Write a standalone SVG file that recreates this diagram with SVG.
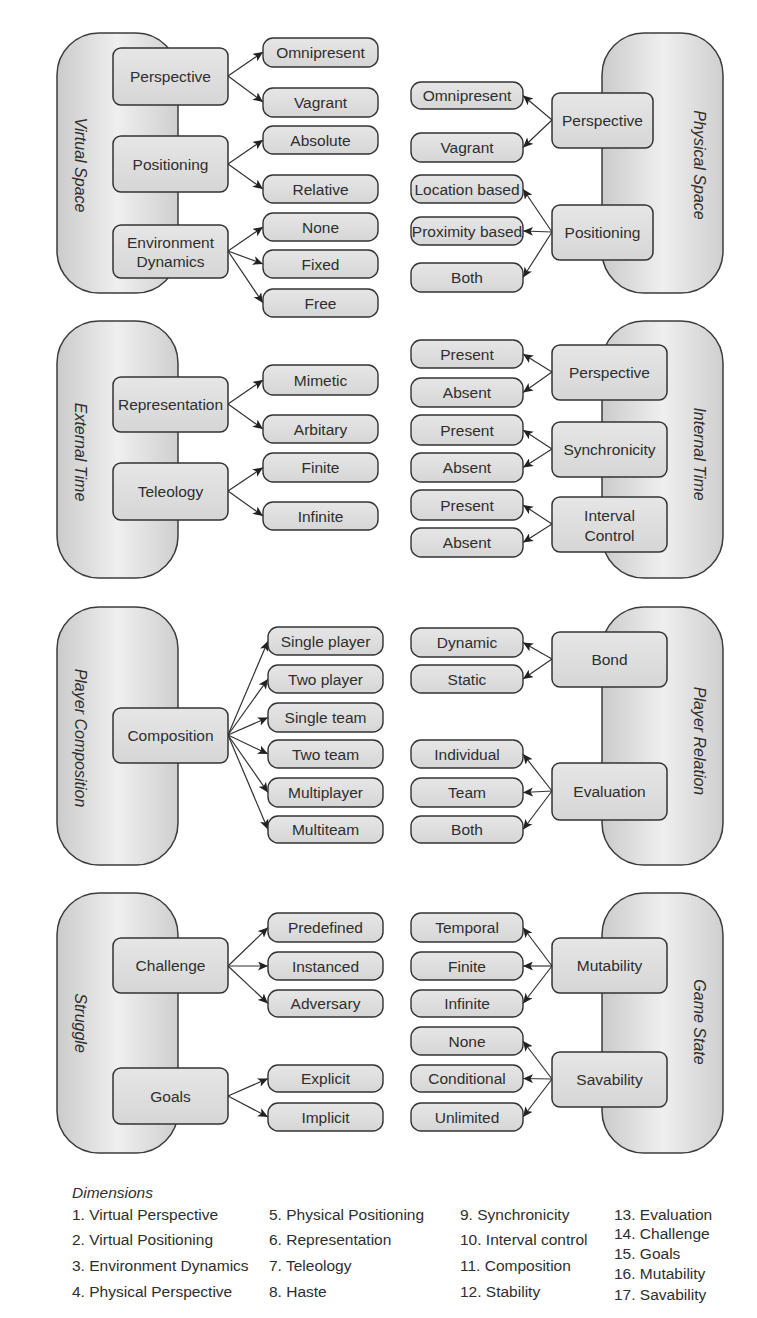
<svg xmlns="http://www.w3.org/2000/svg" width="757" height="1318" viewBox="0 0 757 1318">
<style>
.pill{fill:url(#pg);stroke:#3c3c3c;stroke-width:1.5}
.node{fill:url(#ng);stroke:#333;stroke-width:1.5}
.opt{fill:url(#ng);stroke:#333;stroke-width:1.4}
.t{font-family:"Liberation Sans",Arial,sans-serif;font-size:15.5px;fill:#2e2e2e;text-anchor:middle;dominant-baseline:central}
.pl{font-family:"Liberation Sans",Arial,sans-serif;font-size:16px;font-style:italic;fill:#2e2e2e;text-anchor:middle;dominant-baseline:central}
.lg{font-family:"Liberation Sans",Arial,sans-serif;font-size:15.5px;fill:#2e2e2e}
.c line{stroke:#333;stroke-width:1.2;marker-end:url(#ah)}
</style>
<defs>
<linearGradient id="pg" x1="0" y1="0" x2="1" y2="0">
<stop offset="0" stop-color="#cbcbcb"/>
<stop offset="0.5" stop-color="#efefef"/>
<stop offset="1" stop-color="#cfcfcf"/>
</linearGradient>
<linearGradient id="ng" x1="0" y1="0" x2="0" y2="1">
<stop offset="0" stop-color="#e6e6e6"/>
<stop offset="1" stop-color="#d6d6d6"/>
</linearGradient>
<marker id="ah" markerUnits="userSpaceOnUse" markerWidth="11" markerHeight="9" refX="10" refY="4.5" orient="auto">
<path d="M0,0 L10,4.5 L0,9 L2.5,4.5 z" fill="#222"/>
</marker>
</defs>
<rect width="757" height="1318" fill="#fff"/>

<g id="virtual-space"><rect class="pill" x="57" y="33" width="121" height="260" rx="42"/><text class="pl" transform="translate(80,165) rotate(90)">Virtual Space</text></g>
<g id="physical-space"><rect class="pill" x="602" y="33" width="121" height="260" rx="42"/><text class="pl" transform="translate(699,165) rotate(90)">Physical Space</text></g>

<g id="external-time"><rect class="pill" x="57" y="321" width="121" height="257" rx="42"/><text class="pl" transform="translate(80,452) rotate(90)">External Time</text></g>
<g id="internal-time"><rect class="pill" x="602" y="321" width="121" height="257" rx="42"/><text class="pl" transform="translate(699,454) rotate(90)">Internal Time</text></g>

<g id="player-composition"><rect class="pill" x="57" y="607" width="121" height="258" rx="42"/><text class="pl" transform="translate(80,738) rotate(90)">Player Composition</text></g>
<g id="player-relation"><rect class="pill" x="602" y="607" width="121" height="258" rx="42"/><text class="pl" transform="translate(699,741) rotate(90)">Player Relation</text></g>

<g id="struggle"><rect class="pill" x="57" y="893" width="121" height="260" rx="42"/><text class="pl" transform="translate(80,1023) rotate(90)">Struggle</text></g>
<g id="game-state"><rect class="pill" x="602" y="893" width="121" height="260" rx="42"/><text class="pl" transform="translate(699,1022) rotate(90)">Game State</text></g>

<g id="connectors" class="c">
<line x1="228" y1="76" x2="263" y2="52"/>
<line x1="228" y1="76" x2="263" y2="102"/>
<line x1="228" y1="164" x2="263" y2="140"/>
<line x1="228" y1="164" x2="263" y2="189"/>
<line x1="228" y1="251" x2="263" y2="227"/>
<line x1="228" y1="251" x2="263" y2="264"/>
<line x1="228" y1="251" x2="263" y2="303"/>
<line x1="552" y1="120" x2="523" y2="95.5"/>
<line x1="552" y1="120" x2="523" y2="147.5"/>
<line x1="552" y1="232" x2="523" y2="189"/>
<line x1="552" y1="232" x2="523" y2="231"/>
<line x1="552" y1="232" x2="523" y2="277.5"/>
<line x1="228" y1="404" x2="263" y2="380"/>
<line x1="228" y1="404" x2="263" y2="429"/>
<line x1="228" y1="491" x2="263" y2="467.5"/>
<line x1="228" y1="491" x2="263" y2="516"/>
<line x1="552" y1="372" x2="523" y2="354"/>
<line x1="552" y1="372" x2="523" y2="392.5"/>
<line x1="552" y1="449" x2="523" y2="430"/>
<line x1="552" y1="449" x2="523" y2="467.5"/>
<line x1="552" y1="524" x2="523" y2="505"/>
<line x1="552" y1="524" x2="523" y2="542.5"/>
<line x1="228" y1="735" x2="268" y2="641"/>
<line x1="228" y1="735" x2="268" y2="679"/>
<line x1="228" y1="735" x2="268" y2="717.5"/>
<line x1="228" y1="735" x2="268" y2="754"/>
<line x1="228" y1="735" x2="268" y2="792.5"/>
<line x1="228" y1="735" x2="268" y2="829.5"/>
<line x1="552" y1="659" x2="523" y2="642.5"/>
<line x1="552" y1="659" x2="523" y2="679"/>
<line x1="552" y1="791" x2="523" y2="754"/>
<line x1="552" y1="791" x2="523" y2="792.5"/>
<line x1="552" y1="791" x2="523" y2="829.5"/>
<line x1="228" y1="966" x2="268" y2="927.5"/>
<line x1="228" y1="966" x2="268" y2="966"/>
<line x1="228" y1="966" x2="268" y2="1003.5"/>
<line x1="228" y1="1096" x2="268" y2="1078.5"/>
<line x1="228" y1="1096" x2="268" y2="1117"/>
<line x1="552" y1="966" x2="523" y2="927.5"/>
<line x1="552" y1="966" x2="523" y2="966"/>
<line x1="552" y1="966" x2="523" y2="1003.5"/>
<line x1="552" y1="1079" x2="523" y2="1041"/>
<line x1="552" y1="1079" x2="523" y2="1078.5"/>
<line x1="552" y1="1079" x2="523" y2="1117"/>
</g>

<g id="vs-perspective"><rect class="node" x="113" y="48" width="115" height="57" rx="8"/><text class="t" x="170.5" y="76.5">Perspective</text></g>
<g id="vs-positioning"><rect class="node" x="113" y="136" width="115" height="56" rx="8"/><text class="t" x="170.5" y="164">Positioning</text></g>
<g id="vs-envdyn"><rect class="node" x="113" y="225" width="115" height="53" rx="8"/><text class="t" x="170.5" y="242">Environment</text><text class="t" x="170.5" y="261">Dynamics</text></g>
<g id="vs-omnipresent"><rect class="opt" x="263" y="38" width="115" height="29" rx="10"/><text class="t" x="320.5" y="52.5">Omnipresent</text></g>
<g id="vs-vagrant"><rect class="opt" x="263" y="88" width="115" height="29" rx="10"/><text class="t" x="320.5" y="102.5">Vagrant</text></g>
<g id="vs-absolute"><rect class="opt" x="263" y="126" width="115" height="28" rx="10"/><text class="t" x="320.5" y="140">Absolute</text></g>
<g id="vs-relative"><rect class="opt" x="263" y="175" width="115" height="28" rx="10"/><text class="t" x="320.5" y="189">Relative</text></g>
<g id="vs-none"><rect class="opt" x="263" y="213" width="115" height="28" rx="10"/><text class="t" x="320.5" y="227">None</text></g>
<g id="vs-fixed"><rect class="opt" x="263" y="250" width="115" height="28" rx="10"/><text class="t" x="320.5" y="264">Fixed</text></g>
<g id="vs-free"><rect class="opt" x="263" y="289" width="115" height="28" rx="10"/><text class="t" x="320.5" y="303">Free</text></g>

<g id="ps-perspective"><rect class="node" x="552" y="93" width="101" height="55" rx="8"/><text class="t" x="602.5" y="120.5">Perspective</text></g>
<g id="ps-positioning"><rect class="node" x="552" y="205" width="101" height="55" rx="8"/><text class="t" x="602.5" y="232.5">Positioning</text></g>
<g id="ps-omnipresent"><rect class="opt" x="411" y="82" width="112" height="27" rx="10"/><text class="t" x="467" y="95.5">Omnipresent</text></g>
<g id="ps-vagrant"><rect class="opt" x="411" y="133" width="112" height="29" rx="10"/><text class="t" x="467" y="147.5">Vagrant</text></g>
<g id="ps-location"><rect class="opt" x="411" y="175" width="112" height="28" rx="10"/><text class="t" x="467" y="189">Location based</text></g>
<g id="ps-proximity"><rect class="opt" x="411" y="217" width="112" height="28" rx="10"/><text class="t" x="467" y="231">Proximity based</text></g>
<g id="ps-both"><rect class="opt" x="411" y="263" width="112" height="29" rx="10"/><text class="t" x="467" y="277.5">Both</text></g>

<g id="et-representation"><rect class="node" x="113" y="377" width="115" height="55" rx="8"/><text class="t" x="170.5" y="404.5">Representation</text></g>
<g id="et-teleology"><rect class="node" x="113" y="463" width="115" height="57" rx="8"/><text class="t" x="170.5" y="491.5">Teleology</text></g>
<g id="et-mimetic"><rect class="opt" x="263" y="365" width="115" height="30" rx="10"/><text class="t" x="320.5" y="380">Mimetic</text></g>
<g id="et-arbitary"><rect class="opt" x="263" y="415" width="115" height="28" rx="10"/><text class="t" x="320.5" y="429">Arbitary</text></g>
<g id="et-finite"><rect class="opt" x="263" y="453" width="115" height="29" rx="10"/><text class="t" x="320.5" y="467.5">Finite</text></g>
<g id="et-infinite"><rect class="opt" x="263" y="502" width="115" height="28" rx="10"/><text class="t" x="320.5" y="516">Infinite</text></g>

<g id="it-perspective"><rect class="node" x="552" y="345" width="115" height="55" rx="8"/><text class="t" x="609.5" y="372.5">Perspective</text></g>
<g id="it-synchronicity"><rect class="node" x="552" y="422" width="115" height="55" rx="8"/><text class="t" x="609.5" y="449.5">Synchronicity</text></g>
<g id="it-interval"><rect class="node" x="552" y="497" width="115" height="55" rx="8"/><text class="t" x="609.5" y="515">Interval</text><text class="t" x="609.5" y="535">Control</text></g>
<g id="it-present1"><rect class="opt" x="411" y="340" width="112" height="28" rx="10"/><text class="t" x="467" y="354">Present</text></g>
<g id="it-absent1"><rect class="opt" x="411" y="378" width="112" height="29" rx="10"/><text class="t" x="467" y="392.5">Absent</text></g>
<g id="it-present2"><rect class="opt" x="411" y="415" width="112" height="30" rx="10"/><text class="t" x="467" y="430">Present</text></g>
<g id="it-absent2"><rect class="opt" x="411" y="453" width="112" height="29" rx="10"/><text class="t" x="467" y="467.5">Absent</text></g>
<g id="it-present3"><rect class="opt" x="411" y="490" width="112" height="30" rx="10"/><text class="t" x="467" y="505">Present</text></g>
<g id="it-absent3"><rect class="opt" x="411" y="528" width="112" height="29" rx="10"/><text class="t" x="467" y="542.5">Absent</text></g>

<g id="pc-composition"><rect class="node" x="113" y="708" width="115" height="55" rx="8"/><text class="t" x="170.5" y="735.5">Composition</text></g>
<g id="pc-single-player"><rect class="opt" x="268" y="627" width="115" height="28" rx="10"/><text class="t" x="325.5" y="641">Single player</text></g>
<g id="pc-two-player"><rect class="opt" x="268" y="665" width="115" height="28" rx="10"/><text class="t" x="325.5" y="679">Two player</text></g>
<g id="pc-single-team"><rect class="opt" x="268" y="703" width="115" height="29" rx="10"/><text class="t" x="325.5" y="717.5">Single team</text></g>
<g id="pc-two-team"><rect class="opt" x="268" y="740" width="115" height="28" rx="10"/><text class="t" x="325.5" y="754">Two team</text></g>
<g id="pc-multiplayer"><rect class="opt" x="268" y="778" width="115" height="29" rx="10"/><text class="t" x="325.5" y="792.5">Multiplayer</text></g>
<g id="pc-multiteam"><rect class="opt" x="268" y="816" width="115" height="27" rx="10"/><text class="t" x="325.5" y="829.5">Multiteam</text></g>

<g id="pr-bond"><rect class="node" x="552" y="632" width="115" height="55" rx="8"/><text class="t" x="609.5" y="659.5">Bond</text></g>
<g id="pr-evaluation"><rect class="node" x="552" y="763" width="115" height="57" rx="8"/><text class="t" x="609.5" y="791.5">Evaluation</text></g>
<g id="pr-dynamic"><rect class="opt" x="411" y="628" width="112" height="29" rx="10"/><text class="t" x="467" y="642.5">Dynamic</text></g>
<g id="pr-static"><rect class="opt" x="411" y="665" width="112" height="28" rx="10"/><text class="t" x="467" y="679">Static</text></g>
<g id="pr-individual"><rect class="opt" x="411" y="740" width="112" height="28" rx="10"/><text class="t" x="467" y="754">Individual</text></g>
<g id="pr-team"><rect class="opt" x="411" y="778" width="112" height="29" rx="10"/><text class="t" x="467" y="792.5">Team</text></g>
<g id="pr-both"><rect class="opt" x="411" y="816" width="112" height="27" rx="10"/><text class="t" x="467" y="829.5">Both</text></g>

<g id="st-challenge"><rect class="node" x="113" y="938" width="115" height="55" rx="8"/><text class="t" x="170.5" y="965.5">Challenge</text></g>
<g id="st-goals"><rect class="node" x="113" y="1068" width="115" height="56" rx="8"/><text class="t" x="170.5" y="1096">Goals</text></g>
<g id="st-predefined"><rect class="opt" x="268" y="913" width="115" height="29" rx="10"/><text class="t" x="325.5" y="927.5">Predefined</text></g>
<g id="st-instanced"><rect class="opt" x="268" y="952" width="115" height="28" rx="10"/><text class="t" x="325.5" y="966">Instanced</text></g>
<g id="st-adversary"><rect class="opt" x="268" y="990" width="115" height="27" rx="10"/><text class="t" x="325.5" y="1003.5">Adversary</text></g>
<g id="st-explicit"><rect class="opt" x="268" y="1065" width="115" height="27" rx="10"/><text class="t" x="325.5" y="1078.5">Explicit</text></g>
<g id="st-implicit"><rect class="opt" x="268" y="1103" width="115" height="28" rx="10"/><text class="t" x="325.5" y="1117">Implicit</text></g>

<g id="gs-mutability"><rect class="node" x="552" y="938" width="115" height="55" rx="8"/><text class="t" x="609.5" y="965.5">Mutability</text></g>
<g id="gs-savability"><rect class="node" x="552" y="1052" width="115" height="55" rx="8"/><text class="t" x="609.5" y="1079.5">Savability</text></g>
<g id="gs-temporal"><rect class="opt" x="411" y="913" width="112" height="29" rx="10"/><text class="t" x="467" y="927.5">Temporal</text></g>
<g id="gs-finite"><rect class="opt" x="411" y="952" width="112" height="28" rx="10"/><text class="t" x="467" y="966">Finite</text></g>
<g id="gs-infinite"><rect class="opt" x="411" y="990" width="112" height="27" rx="10"/><text class="t" x="467" y="1003.5">Infinite</text></g>
<g id="gs-none"><rect class="opt" x="411" y="1027" width="112" height="28" rx="10"/><text class="t" x="467" y="1041">None</text></g>
<g id="gs-conditional"><rect class="opt" x="411" y="1065" width="112" height="27" rx="10"/><text class="t" x="467" y="1078.5">Conditional</text></g>
<g id="gs-unlimited"><rect class="opt" x="411" y="1103" width="112" height="28" rx="10"/><text class="t" x="467" y="1117">Unlimited</text></g>

<g id="legend">
<text class="lg" x="72" y="1198" font-style="italic">Dimensions</text>
<text class="lg" x="72" y="1220">1. Virtual Perspective</text>
<text class="lg" x="72" y="1245">2. Virtual Positioning</text>
<text class="lg" x="72" y="1271">3. Environment Dynamics</text>
<text class="lg" x="72" y="1297">4. Physical Perspective</text>
<text class="lg" x="269" y="1220">5. Physical Positioning</text>
<text class="lg" x="269" y="1245">6. Representation</text>
<text class="lg" x="269" y="1271">7. Teleology</text>
<text class="lg" x="269" y="1297">8. Haste</text>
<text class="lg" x="460" y="1220">9. Synchronicity</text>
<text class="lg" x="460" y="1245">10. Interval control</text>
<text class="lg" x="460" y="1271">11. Composition</text>
<text class="lg" x="460" y="1297">12. Stability</text>
<text class="lg" x="614" y="1220">13. Evaluation</text>
<text class="lg" x="614" y="1239">14. Challenge</text>
<text class="lg" x="614" y="1259">15. Goals</text>
<text class="lg" x="614" y="1279">16. Mutability</text>
<text class="lg" x="614" y="1300">17. Savability</text>
</g>
</svg>
